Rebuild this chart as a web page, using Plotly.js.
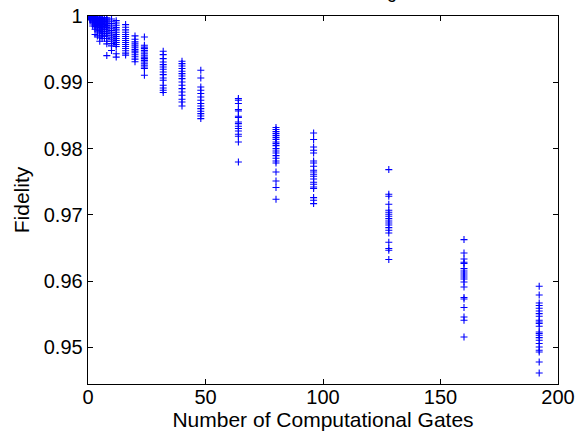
<!DOCTYPE html>
<html>
<head>
<meta charset="utf-8">
<script src="https://cdn.plot.ly/plotly-3.0.1.min.js"></script>
<style>html,body{margin:0;padding:0;background:#fff;}#chart{width:577px;height:435px;}</style>
</head>
<body>
<div id="chart"></div>
<script>
// Number of computational gates (x positions of the columns)
const gates = [1, 2, 3, 4, 5, 6, 7, 8, 10, 12, 16, 20, 24, 32, 40, 48, 64, 80, 96, 128, 160, 192];

// Fidelity samples per gate count
const fid_1 = [0.99995, 0.99990, 0.99985, 0.99980, 0.99975, 0.99970, 0.99965, 0.99960, 0.99955, 0.99948, 0.99940];
const fid_2 = [0.99990, 0.99982, 0.99975, 0.99968, 0.99960, 0.99952, 0.99945, 0.99935, 0.99925, 0.99912, 0.99898, 0.99880, 0.99850];
const fid_3 = [0.99988, 0.99978, 0.99968, 0.99958, 0.99948, 0.99938, 0.99925, 0.99912, 0.99898, 0.99880, 0.99862, 0.99840, 0.99800, 0.99720];
const fid_4 = [0.99985, 0.99972, 0.99960, 0.99948, 0.99935, 0.99920, 0.99905, 0.99890, 0.99872, 0.99855, 0.99835, 0.99805, 0.99775, 0.99700];
const fid_5 = [0.99982, 0.99968, 0.99952, 0.99938, 0.99922, 0.99905, 0.99888, 0.99870, 0.99850, 0.99828, 0.99805, 0.99775, 0.99745, 0.99680, 0.99620];
const fid_6 = [0.99978, 0.99960, 0.99942, 0.99925, 0.99905, 0.99885, 0.99865, 0.99842, 0.99818, 0.99792, 0.99765, 0.99735, 0.99700, 0.99660];
const fid_7 = [0.99975, 0.99955, 0.99935, 0.99915, 0.99892, 0.99870, 0.99845, 0.99820, 0.99792, 0.99762, 0.99730, 0.99695, 0.99660];
const fid_8 = [0.99972, 0.99950, 0.99928, 0.99905, 0.99880, 0.99855, 0.99828, 0.99800, 0.99770, 0.99738, 0.99700, 0.99660, 0.99620, 0.99580, 0.99403];
const fid_10 = [0.99955, 0.99920, 0.99885, 0.99850, 0.99815, 0.99780, 0.99745, 0.99712, 0.99680, 0.99650, 0.99620, 0.99585, 0.99550, 0.99480];
const fid_12 = [0.99930, 0.99895, 0.99860, 0.99825, 0.99790, 0.99755, 0.99720, 0.99690, 0.99660, 0.99630, 0.99600, 0.99570, 0.99540, 0.99430, 0.99380];
const fid_16 = [0.99870, 0.99830, 0.99790, 0.99755, 0.99720, 0.99690, 0.99660, 0.99630, 0.99600, 0.99570, 0.99540, 0.99510, 0.99475, 0.99440, 0.99410];
const fid_20 = [0.99700, 0.99650, 0.99610, 0.99580, 0.99550, 0.99520, 0.99495, 0.99470, 0.99445, 0.99415, 0.99385, 0.99350, 0.99310];
const fid_24 = [0.99683, 0.99558, 0.99530, 0.99508, 0.99480, 0.99457, 0.99430, 0.99407, 0.99380, 0.99357, 0.99330, 0.99306, 0.99280, 0.99256, 0.99230, 0.99207, 0.99106];
const fid_32 = [0.99468, 0.99418, 0.99357, 0.99306, 0.99267, 0.99231, 0.99196, 0.99155, 0.99116, 0.99065, 0.99030, 0.98955, 0.98914, 0.98879, 0.98845];
const fid_40 = [0.99317, 0.99282, 0.99246, 0.99207, 0.99166, 0.99131, 0.99095, 0.99056, 0.99005, 0.98955, 0.98905, 0.98854, 0.98804, 0.98744, 0.98703, 0.98643];
const fid_48 = [0.99181, 0.99065, 0.98929, 0.98879, 0.98830, 0.98778, 0.98729, 0.98679, 0.98643, 0.98603, 0.98563, 0.98528, 0.98492, 0.98452];
const fid_64 = [0.98754, 0.98729, 0.98679, 0.98588, 0.98567, 0.98487, 0.98468, 0.98401, 0.98377, 0.98336, 0.98302, 0.98265, 0.98216, 0.98186, 0.98100, 0.97798];
const fid_80 = [0.98317, 0.98287, 0.98256, 0.98226, 0.98196, 0.98166, 0.98136, 0.98100, 0.98075, 0.98045, 0.98000, 0.97964, 0.97934, 0.97894, 0.97854, 0.97813, 0.97783, 0.97647, 0.97511, 0.97412, 0.97235];
const fid_96 = [0.98235, 0.98136, 0.98024, 0.97974, 0.97934, 0.97813, 0.97783, 0.97733, 0.97673, 0.97647, 0.97612, 0.97582, 0.97541, 0.97492, 0.97462, 0.97421, 0.97397, 0.97261, 0.97220, 0.97170];
const fid_128 = [0.97683, 0.97311, 0.97281, 0.97160, 0.97069, 0.97039, 0.97009, 0.96979, 0.96944, 0.96908, 0.96878, 0.96848, 0.96808, 0.96768, 0.96727, 0.96587, 0.96492, 0.96466, 0.96326];
const fid_160 = [0.96627, 0.96425, 0.96335, 0.96285, 0.96266, 0.96190, 0.96154, 0.96124, 0.96094, 0.96063, 0.96033, 0.95988, 0.95913, 0.95753, 0.95732, 0.95602, 0.95460, 0.95410, 0.95158];
const fid_192 = [0.95923, 0.95792, 0.95671, 0.95632, 0.95591, 0.95551, 0.95511, 0.95471, 0.95410, 0.95385, 0.95361, 0.95320, 0.95234, 0.95210, 0.95184, 0.95149, 0.95109, 0.95059, 0.95008, 0.94958, 0.94932, 0.94781, 0.94615];

const fidelityByGate = [fid_1, fid_2, fid_3, fid_4, fid_5, fid_6, fid_7, fid_8, fid_10, fid_12, fid_16, fid_20, fid_24, fid_32, fid_40, fid_48, fid_64, fid_80, fid_96, fid_128, fid_160, fid_192];

const xTicks = [0, 50, 100, 150, 200];
const yTicks = [0.95, 0.96, 0.97, 0.98, 0.99, 1];
const yTickText = ["0.95", "0.96", "0.97", "0.98", "0.99", "1"];
const chartTitle = "Gate Error Scaling";

const xs = [], ys = [];
gates.forEach((g, i) => {
  fidelityByGate[i].forEach(v => { xs.push(g); ys.push(v); });
});

const FONT = "Liberation Sans, Arial, Helvetica, sans-serif";

const trace = {
  type: "scatter",
  mode: "markers",
  x: xs,
  y: ys,
  marker: {symbol: "cross-thin", size: 5, color: "#0000ff", line: {color: "#0000ff", width: 1.1}},
  cliponaxis: true,
  hoverinfo: "x+y"
};

const axisCommon = {
  showline: true, linecolor: "#000", linewidth: 1.3, mirror: "ticks",
  ticks: "inside", ticklen: 5, tickwidth: 1, tickcolor: "#000",
  showgrid: false, zeroline: false,
  tickfont: {family: FONT, size: 20, color: "#000"}
};

const layout = {
  width: 577, height: 435,
  margin: {l: 88, r: 19, t: 16, b: 51, pad: 0},
  paper_bgcolor: "#fff", plot_bgcolor: "#fff",
  showlegend: false,
  annotations: [{
    text: chartTitle, showarrow: false,
    xref: "paper", x: 0.5, xanchor: "center",
    yref: "paper", y: 1, yanchor: "bottom", yshift: 12,
    font: {family: FONT, size: 18, color: "#000"}
  }],
  xaxis: Object.assign({}, axisCommon, {
    range: [0, 200], tickmode: "array", tickvals: xTicks, ticklabelstandoff: -5,
    title: {text: "Number of Computational Gates", font: {family: FONT, size: 21, color: "#000"}, standoff: 1}
  }),
  yaxis: Object.assign({}, axisCommon, {
    range: [0.94449, 1], tickmode: "array", tickvals: yTicks, ticktext: yTickText,
    title: {text: "Fidelity", font: {family: FONT, size: 21, color: "#000"}, standoff: 8}
  })
};

Plotly.newPlot("chart", [trace], layout, {displayModeBar: false, staticPlot: true});
</script>
</body>
</html>
